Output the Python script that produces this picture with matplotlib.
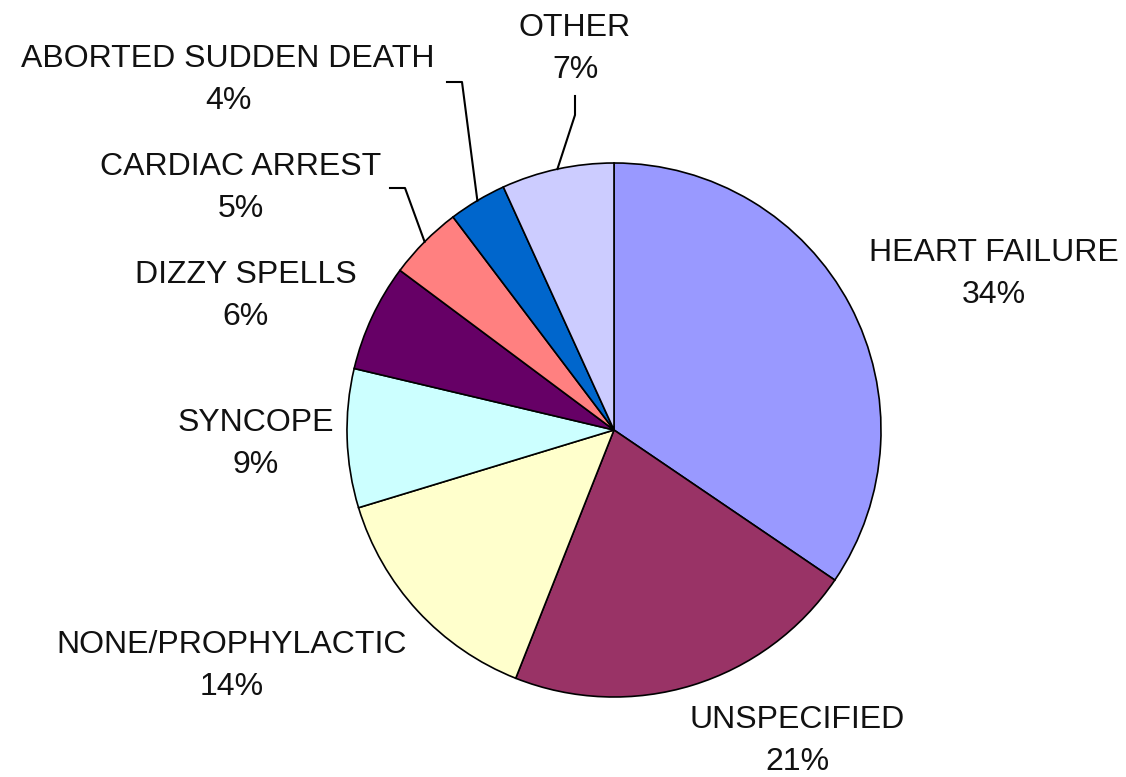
import numpy as np
import matplotlib
matplotlib.use('Agg')
import matplotlib.pyplot as plt

# данные диаграммы (доли)
labels = ['HEART FAILURE', 'UNSPECIFIED', 'NONE/PROPHYLACTIC', 'SYNCOPE',
          'DIZZY SPELLS', 'CARDIAC ARREST', 'ABORTED SUDDEN DEATH', 'OTHER']
values = [34.5, 21.5, 14.3, 8.4, 6.5, 4.5, 3.5, 6.8]
pct_labels = ['34%', '21%', '14%', '9%', '6%', '5%', '4%', '7%']
colors = ['#9999FF', '#993366', '#FFFFCC', '#CCFFFF',
          '#660066', '#FF8080', '#0066CC', '#CCCCFF']

W, H = 1126, 777
cx, cy, R = 614, H - 430, 267

# позиции подписей (в пикселях картинки, y сверху)
label_pos = [(994, 274), (797, 741), (232, 666), (256, 444),
             (246, 296), (241, 188), (228, 80), (575, 49)]
# выноски: индекс -> точки излома (x, y сверху)
leaders = {5: [(405, 188), (390, 188)],
           6: [(462, 82), (447, 82)],
           7: [(575, 115), (575, 96)]}

plt.rcParams['font.family'] = ['Liberation Sans', 'DejaVu Sans']

fig = plt.figure(figsize=(W / 100, H / 100), dpi=100)
ax = fig.add_axes([0, 0, 1, 1])

wedges, _ = ax.pie(values, colors=colors, startangle=90, counterclock=False,
                   center=(cx, cy), radius=R, frame=True,
                   wedgeprops=dict(edgecolor='black', linewidth=1.2))
ax.set_xlim(0, W)
ax.set_ylim(0, H)
ax.axis('off')

for i, lab in enumerate(labels):
    x, y = label_pos[i]
    ax.text(x, H - y, f'{lab}\n{pct_labels[i]}', ha='center',
            va='center', fontsize=23, linespacing=1.48, color='#111111')

for i, pts in leaders.items():
    w = wedges[i]
    ang = np.deg2rad((w.theta1 + w.theta2) / 2)
    ex, ey = cx + R * np.cos(ang), cy + R * np.sin(ang)
    xs = [ex] + [p[0] for p in pts]
    ys = [ey] + [H - p[1] for p in pts]
    ax.plot(xs, ys, color='black', linewidth=1.5)

fig.savefig('out.png', dpi=100, facecolor='white')
